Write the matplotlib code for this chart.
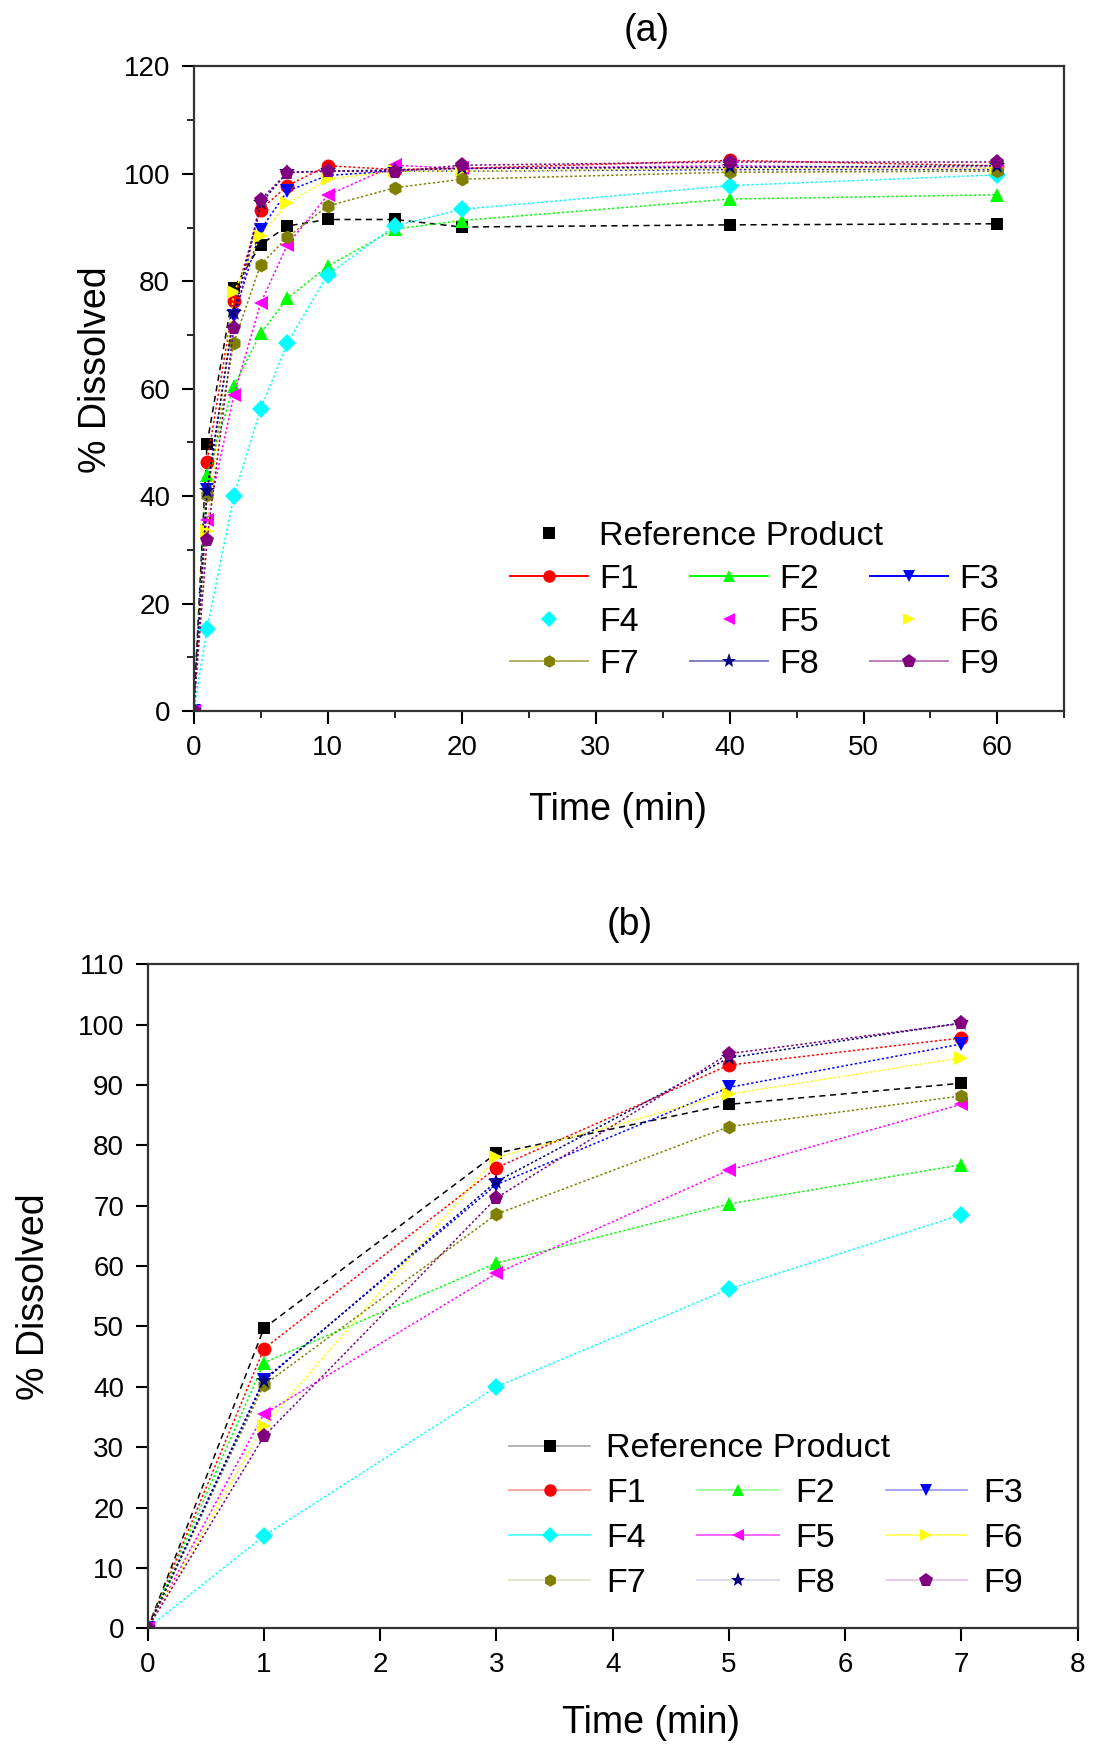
import numpy as np
import matplotlib.pyplot as plt
from matplotlib.lines import Line2D
from matplotlib.colors import to_rgba

plt.rcParams['font.family'] = ['Liberation Sans', 'DejaVu Sans']

# --- Dados ---
time_min = [0, 1, 3, 5, 7, 10, 15, 20, 40, 60]
labels = ["Reference Product", "F1", "F2", "F3", "F4", "F5", "F6", "F7", "F8", "F9"]

ref = [0, 49.7, 78.7, 86.8, 90.3, 91.5, 91.5, 90.1, 90.5, 90.7]
f1 = [0, 46.3, 76.3, 93.3, 97.8, 101.5, 100.8, 101.0, 102.5, 101.5]
f2 = [0, 44.0, 60.5, 70.3, 76.8, 82.8, 89.7, 91.3, 95.3, 96.1]
f3 = [0, 41.2, 73.5, 89.6, 96.8, 99.7, 100.5, 100.5, 100.8, 100.8]
f4 = [0, 15.3, 40.0, 56.2, 68.5, 81.2, 90.3, 93.4, 97.8, 99.8]
f5 = [0, 35.5, 58.8, 75.9, 86.8, 96.0, 101.6, 101.0, 101.5, 101.0]
f6 = [0, 33.5, 78.0, 88.5, 94.5, 99.0, 100.5, 100.5, 101.0, 101.0]
f7 = [0, 40.3, 68.6, 83.1, 88.2, 94.0, 97.4, 99.0, 100.3, 100.5]
f8 = [0, 41.0, 74.0, 94.5, 100.3, 100.5, 100.7, 101.0, 101.2, 101.5]
f9 = [0, 31.8, 71.3, 95.2, 100.2, 100.5, 100.4, 101.6, 102.2, 102.2]

series = [ref, f1, f2, f3, f4, f5, f6, f7, f8, f9]
colors = ['black', 'red', '#00FF00', 'blue', 'cyan', 'magenta', 'yellow', '#808000', '#000080', '#800080']
markers = ['s', 'o', '^', 'v', 'D', '<', '>', 'h', '*', 'p']
msizes = [9, 10, 10, 10, 9, 10, 10, 10, 12, 11]

fig = plt.figure(figsize=(10.94, 17.47), dpi=100)
ax_a = fig.add_axes([0.177, 0.593, 0.796, 0.369])
ax_b = fig.add_axes([0.135, 0.068, 0.850, 0.380])


def desenhar(ax, n_pts):
    for i, (y, c, m, ms) in enumerate(zip(series, colors, markers, msizes)):
        ls = (0, (4, 3)) if i == 0 else (0, (1.5, 1.5))
        ax.plot(time_min[:n_pts], y[:n_pts], color=c, linestyle=ls, linewidth=1.1,
                marker=m, markersize=ms, markeredgewidth=0)


desenhar(ax_a, len(time_min))
desenhar(ax_b, 5)

for ax in (ax_a, ax_b):
    for s in ax.spines.values():
        s.set_linewidth(1.6)
        s.set_color('#333333')
    ax.tick_params(axis='both', which='major', labelsize=20, length=9, width=1.5,
                   direction='out', top=False, right=False, pad=8)
    ax.tick_params(axis='both', which='minor', length=5, width=1.2, direction='out',
                   top=False, right=False)
    ax.set_ylabel('% Dissolved', fontsize=27)
    ax.set_xlabel('Time (min)', fontsize=27)

# --- Painel (a) ---
ax_a.set_xlim(0, 65)
ax_a.set_ylim(0, 120)
ax_a.set_xticks(range(0, 61, 10))
ax_a.set_xticks(range(5, 66, 10), minor=True)
ax_a.set_yticks(range(0, 121, 20))
ax_a.set_yticks(range(10, 121, 20), minor=True)
ax_a.xaxis.set_label_coords(0.487, -0.125)
ax_a.yaxis.set_label_coords(-0.092, 0.53)

# --- Painel (b) ---
ax_b.set_xlim(0, 8)
ax_b.set_ylim(0, 110)
ax_b.set_xticks(range(0, 9))
ax_b.set_yticks(range(0, 111, 10))
ax_b.xaxis.set_label_coords(0.541, -0.115)
ax_b.yaxis.set_label_coords(-0.103, 0.5)

fig.text(0.591, 0.982, '(a)', fontsize=27, ha='center', va='center')
fig.text(0.576, 0.4707, '(b)', fontsize=27, ha='center', va='center')


# --- Legendas ---
def legenda(ax, sem_linha, alpha_linha, anchor_ref, anchor_f, hl, pad, lsp):
    handles = []
    for i in range(10):
        ls = 'none' if i in sem_linha else '-'
        h = Line2D([], [], color=colors[i], linestyle=ls, linewidth=1.4,
                   marker=markers[i], markersize=msizes[i] - 1, markeredgewidth=0)
        if ls == '-':
            # linha mais clara, marcador opaco
            h.set_color(to_rgba(colors[i], alpha_linha[i]))
            h.set_markerfacecolor(colors[i])
        handles.append(h)
    kw = dict(bbox_transform=fig.transFigure, frameon=False, fontsize=24.5,
              handlelength=hl, handletextpad=pad, borderaxespad=0, borderpad=0,
              loc='upper left')
    l1 = ax.legend([handles[0]], [labels[0]], bbox_to_anchor=anchor_ref, **kw)
    ax.add_artist(l1)
    ordem = [1, 4, 7, 2, 5, 8, 3, 6, 9]
    ax.legend([handles[k] for k in ordem], [labels[k] for k in ordem], ncol=3,
              bbox_to_anchor=anchor_f, columnspacing=1.5, labelspacing=lsp, **kw)


alpha_a = [1, 1, 1, 1, 1, 1, 1, 0.6, 0.5, 0.5]
alpha_b = [0.3, 0.35, 0.35, 0.35, 0.6, 0.6, 0.6, 0.2, 0.15, 0.2]
legenda(ax_a, {0, 4, 5, 6}, alpha_a, (0.466, 0.7019), (0.466, 0.677), 2.3, 0.32, 0.33)
legenda(ax_b, set(), alpha_b, (0.465, 0.1795), (0.465, 0.154), 2.4, 0.47, 0.41)

plt.savefig('out.png', dpi=100)
